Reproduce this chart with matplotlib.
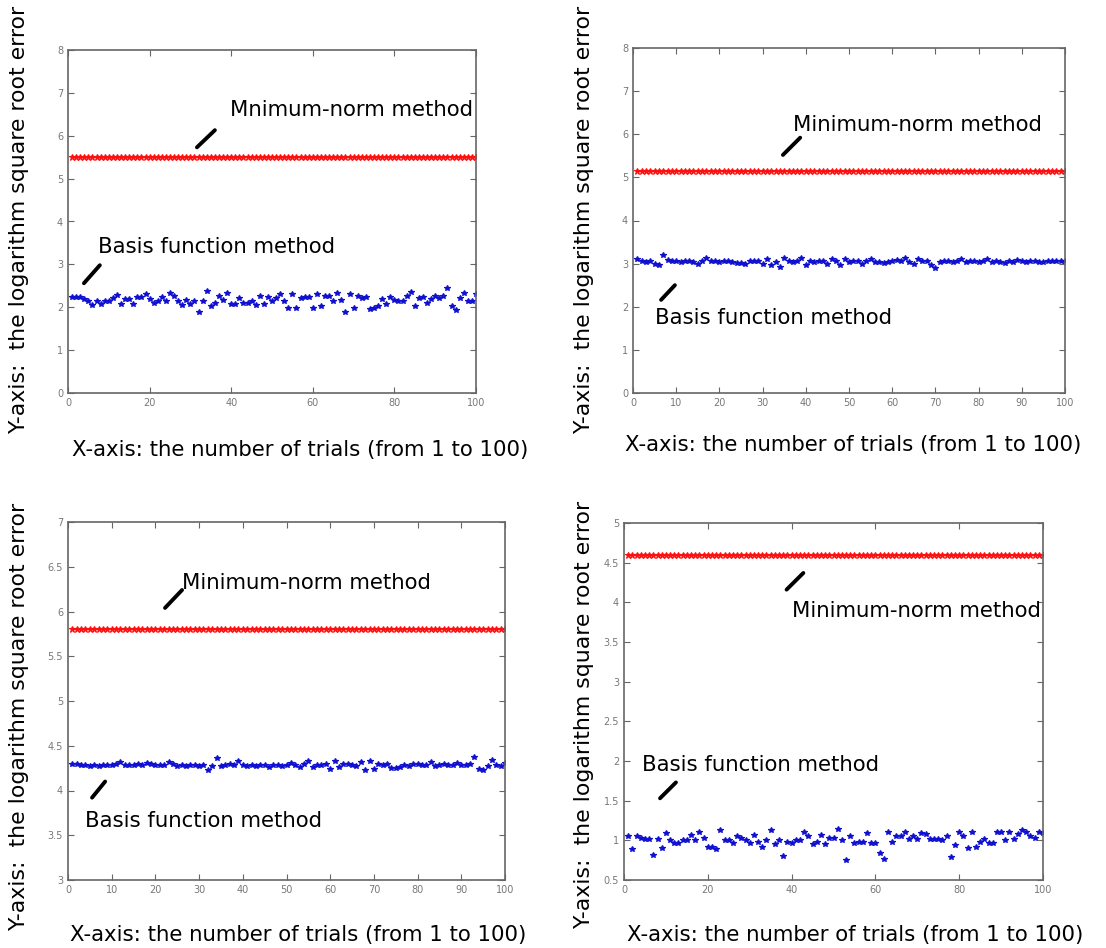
import matplotlib
matplotlib.use('Agg')
import matplotlib.pyplot as plt
from matplotlib.ticker import FuncFormatter
import numpy as np

# trial numbers
trials = list(range(1, 101))

# panel 1 (top left)
p1_red = [5.5] * 100
p1_blue = [2.23, 2.23, 2.25, 2.19, 2.15, 2.06, 2.15, 2.07, 2.14, 2.15,
           2.21, 2.29, 2.07, 2.19, 2.19, 2.07, 2.25, 2.25, 2.30, 2.19,
           2.10, 2.15, 2.25, 2.14, 2.34, 2.26, 2.14, 2.06, 2.18, 2.07,
           2.15, 1.90, 2.15, 2.39, 2.02, 2.10, 2.26, 2.18, 2.34, 2.07,
           2.07, 2.21, 2.11, 2.10, 2.14, 2.06, 2.26, 2.07, 2.25, 2.14,
           2.21, 2.32, 2.14, 1.98, 2.32, 1.98, 2.21, 2.23, 2.23, 1.98,
           2.32, 2.03, 2.26, 2.26, 2.14, 2.34, 2.18, 1.90, 2.30, 1.98,
           2.26, 2.21, 2.25, 1.96, 1.98, 2.02, 2.19, 2.07, 2.25, 2.18,
           2.15, 2.14, 2.26, 2.36, 2.03, 2.21, 2.23, 2.11, 2.19, 2.26,
           2.21, 2.26, 2.44, 2.02, 1.94, 2.21, 2.34, 2.14, 2.14, 2.30]

# panel 2 (top right)
p2_red = [5.15] * 100
p2_blue = [3.10, 3.05, 3.04, 3.06, 2.98, 2.97, 3.20, 3.08, 3.05, 3.06,
           3.04, 3.07, 3.05, 3.03, 2.98, 3.06, 3.14, 3.06, 3.05, 3.04,
           3.06, 3.05, 3.04, 3.02, 3.01, 3.00, 3.06, 3.07, 3.05, 3.00,
           3.10, 2.96, 3.04, 2.92, 3.12, 3.05, 3.04, 3.07, 3.12, 2.97,
           3.06, 3.04, 3.05, 3.06, 2.98, 3.10, 3.05, 2.96, 3.10, 3.04,
           3.05, 3.06, 2.98, 3.05, 3.11, 3.03, 3.03, 3.02, 3.04, 3.05,
           3.08, 3.06, 3.12, 3.04, 2.98, 3.11, 3.05, 3.06, 2.97, 2.90,
           3.04, 3.05, 3.06, 3.03, 3.05, 3.10, 3.04, 3.05, 3.06, 3.04,
           3.06, 3.10, 3.04, 3.05, 3.04, 3.02, 3.05, 3.04, 3.09, 3.05,
           3.04, 3.06, 3.05, 3.03, 3.04, 3.06, 3.05, 3.06, 3.07, 3.06]

# panel 3 (bottom left)
p3_red = [5.8] * 100
p3_blue = [4.30, 4.30, 4.29, 4.28, 4.27, 4.28, 4.27, 4.28, 4.29, 4.28,
           4.30, 4.32, 4.28, 4.29, 4.28, 4.30, 4.29, 4.31, 4.30, 4.28,
           4.28, 4.29, 4.32, 4.30, 4.27, 4.29, 4.27, 4.28, 4.29, 4.27,
           4.28, 4.23, 4.27, 4.36, 4.27, 4.29, 4.30, 4.28, 4.33, 4.29,
           4.27, 4.28, 4.27, 4.28, 4.28, 4.26, 4.28, 4.29, 4.27, 4.29,
           4.31, 4.28, 4.26, 4.30, 4.33, 4.26, 4.29, 4.29, 4.30, 4.24,
           4.33, 4.26, 4.30, 4.30, 4.28, 4.27, 4.32, 4.23, 4.33, 4.24,
           4.30, 4.29, 4.30, 4.25, 4.25, 4.26, 4.29, 4.27, 4.30, 4.30,
           4.29, 4.28, 4.32, 4.27, 4.29, 4.30, 4.28, 4.29, 4.31, 4.28,
           4.29, 4.30, 4.37, 4.24, 4.23, 4.27, 4.34, 4.28, 4.27, 4.31]

# panel 4 (bottom right)
p4_red = [4.6] * 100
p4_blue = [1.05, 0.89, 1.05, 1.03, 1.02, 1.02, 0.82, 1.02, 0.90, 1.09,
           1.01, 0.97, 0.97, 1.00, 1.00, 1.07, 1.00, 1.11, 1.03, 0.92,
           0.92, 0.89, 1.13, 1.00, 1.00, 0.97, 1.05, 1.03, 1.00, 0.97,
           1.07, 0.98, 0.92, 1.01, 1.13, 0.96, 1.00, 0.80, 0.98, 0.97,
           1.00, 1.00, 1.10, 1.05, 0.96, 0.98, 1.07, 0.96, 1.03, 1.03,
           1.14, 1.01, 0.75, 1.05, 0.97, 0.98, 0.98, 1.09, 0.97, 0.97,
           0.84, 0.76, 1.11, 0.98, 1.05, 1.05, 1.10, 1.02, 1.05, 1.02,
           1.09, 1.08, 1.02, 1.02, 1.02, 1.01, 1.05, 0.79, 0.94, 1.11,
           1.05, 0.90, 1.11, 0.92, 0.98, 1.02, 0.97, 0.97, 1.11, 1.10,
           1.01, 1.10, 1.02, 1.08, 1.13, 1.10, 1.05, 1.03, 1.11, 1.09]

top_name = ['Mnimum-norm method', 'Minimum-norm method', 'Minimum-norm method', 'Minimum-norm method']
low_name = 'Basis function method'
xlabel = 'X-axis: the number of trials (from 1 to 100)'
ylabel = 'Y-axis:  the logarithm square root error'

W, H = 1106, 948
fig = plt.figure(figsize=(W / 100, H / 100), dpi=100)


def px_axes(left, top, right, bottom):
    return fig.add_axes([left / W, 1 - bottom / H, (right - left) / W, (bottom - top) / H])


# axes boxes in pixels: left, top, right, bottom
boxes = [(68, 50, 476, 393), (633, 48, 1065, 393), (68, 522, 505, 880), (624, 523, 1043, 880)]
ylims = [(0, 8), (0, 8), (3, 7), (0.5, 5)]
yticks = [np.arange(0, 8.1, 1), np.arange(0, 8.1, 1), np.arange(3, 7.01, 0.5), np.arange(0.5, 5.01, 0.5)]
xstep = [20, 10, 10, 20]
reds = [p1_red, p2_red, p3_red, p4_red]
blues = [p1_blue, p2_blue, p3_blue, p4_blue]
# annotation text position (data) and the little pointer stroke
top_txt = [(39.7, 6.6), (37, 6.22), (26.1, 6.32), (40.1, 3.89)]
top_stroke = [((31.6, 36.0), (5.73, 6.13)), ((34.7, 38.7), (5.52, 5.92)),
              ((22.2, 26.1), (6.04, 6.24)), ((38.8, 42.8), (4.16, 4.37))]
low_txt = [(7.4, 3.4), (5.1, 1.74), (3.9, 3.66), (4.2, 1.95)]
low_stroke = [((3.9, 7.8), (2.56, 2.98)), ((6.5, 9.7), (2.16, 2.5)),
              ((5.5, 8.5), (3.92, 4.1)), ((8.6, 12.4), (1.53, 1.73))]
# figure-level axis label centres in pixels
xlab_pos = [(300, 450), (853, 445), (298, 935), (855, 935)]
ylab_pos = [(19, 220), (584, 220), (19, 717), (584, 715)]

for i in range(4):
    ax = px_axes(*boxes[i])
    ax.plot(trials, reds[i], '*', color='#ff1010', ms=4.5, mew=0.8, linestyle='-', lw=1.5)
    ax.plot(trials, blues[i], '*', color='#1010d0', ms=4, mew=0.9, linestyle='none')
    ax.set_xlim(0, 100)
    ax.set_ylim(*ylims[i])
    ax.set_yticks(yticks[i])
    ax.set_xticks(np.arange(0, 101, xstep[i]))
    ax.yaxis.set_major_formatter(FuncFormatter(lambda v, p: '%g' % v))
    ax.tick_params(direction='in', top=True, right=True, length=4, width=0.8,
                   labelsize=7, labelcolor='#777777', color='#666666')
    for s in ax.spines.values():
        s.set_color('#666666')
        s.set_linewidth(1.2)

    ax.text(top_txt[i][0], top_txt[i][1], top_name[i], fontsize=15.3, va='center', ha='left')
    ax.plot(top_stroke[i][0], top_stroke[i][1], color='black', lw=2.8, solid_capstyle='round')
    ax.text(low_txt[i][0], low_txt[i][1], low_name, fontsize=15.3, va='center', ha='left')
    ax.plot(low_stroke[i][0], low_stroke[i][1], color='black', lw=2.8, solid_capstyle='round')

    fig.text(xlab_pos[i][0] / W, 1 - xlab_pos[i][1] / H, xlabel, fontsize=15.3,
             ha='center', va='center')
    fig.text(ylab_pos[i][0] / W, 1 - ylab_pos[i][1] / H, ylabel, fontsize=15.8,
             ha='center', va='center', rotation=90)

fig.savefig('out.png', dpi=100)
